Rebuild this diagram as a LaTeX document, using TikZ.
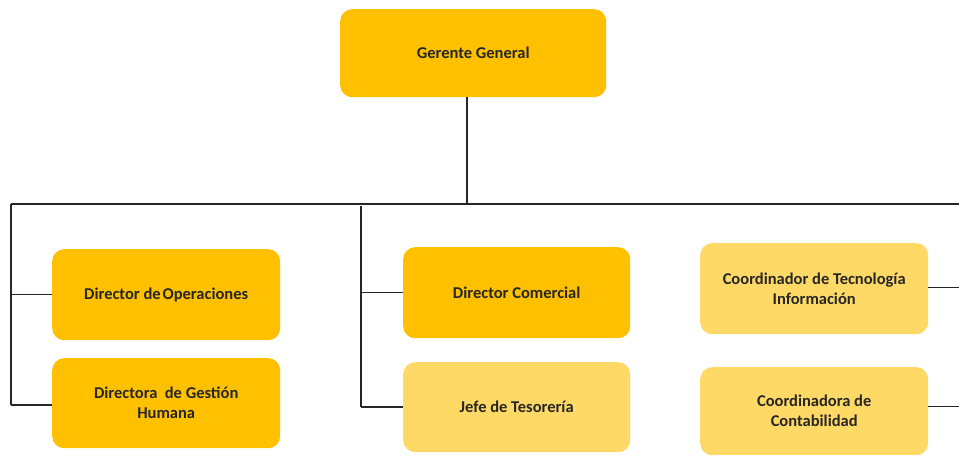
\documentclass[tikz,border=0pt]{standalone}
\usepackage{fontspec}
\setmainfont{Carlito}
\definecolor{gold}{HTML}{FFC000}
\definecolor{lightgold}{HTML}{FFD966}
\definecolor{txt}{HTML}{262626}
\begin{document}
\begin{tikzpicture}[x=1pt,y=-1pt,
  box/.style={rounded corners=12pt, anchor=north west, align=center, inner sep=2pt,
    text=txt, font=\fontsize{16.5}{20}\selectfont\bfseries, draw=none},
  dark/.style={box, fill=gold},
  light/.style={box, fill=lightgold},
  conn/.style={line width=1.2pt, draw=black!85}]
\useasboundingbox (0,0) rectangle (959,455);
\node[dark, minimum width=266pt, minimum height=88pt] (gg) at (340,9) {Gerente General};
\node[dark, minimum width=228pt, minimum height=91pt] (op) at (52,249) {Director de\hspace{2pt}Operaciones};
\node[dark, minimum width=228pt, minimum height=90pt] (gh) at (52,358) {Directora\ \ de Gestión\\Humana};
\node[dark, minimum width=227pt, minimum height=91pt] (dc) at (403,247) {Director Comercial};
\node[light, minimum width=227pt, minimum height=90pt] (jt) at (403,362) {Jefe de Tesorería};
\node[light, minimum width=228pt, minimum height=91pt] (ct) at (700,243) {Coordinador de Tecnología\\Información};
\node[light, minimum width=228pt, minimum height=88pt] (cc) at (700,367) {Coordinadora de\\Contabilidad};
\coordinate (hj) at (467,204);
\coordinate (hl) at (11,204);
\coordinate (hr) at (959,204);
\coordinate (lb) at (11,405);
\coordinate (mt) at (361,206);
\coordinate (mb) at (361,407);
\coordinate (re) at (959,0);
\draw[conn] (gg.south -| hj) -- (hj);
\draw[conn] (hl) -- (hr);
\draw[conn] (hl) -- (lb);
\draw[conn] (op.west -| hl) -- (op.west);
\draw[conn] (lb) -- (lb -| gh.west);
\draw[conn] (mt) -- (mb);
\draw[conn] (dc.west -| mt) -- (dc.west);
\draw[conn] (mb) -- (mb -| jt.west);
\draw[conn] (ct.east) ++(0,-1) coordinate (cte) -- (cte -| re);
\draw[conn] (cc.east) ++(0,-5) coordinate (cce) -- (cce -| re);
\end{tikzpicture}
\end{document}
